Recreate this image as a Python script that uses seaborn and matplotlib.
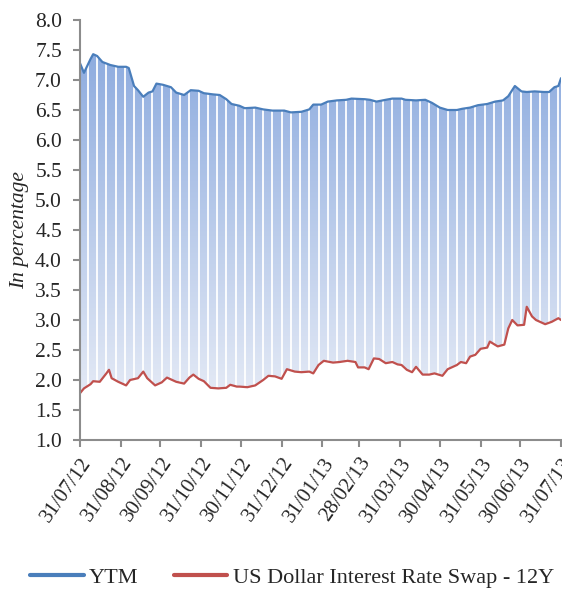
import numpy as np
import pandas as pd
import matplotlib
matplotlib.use("Agg")
import matplotlib.pyplot as plt
import matplotlib.dates as mdates
from matplotlib.patches import Polygon
import seaborn as sns

# ---------------- data ----------------
ytm_dates = ["2012-07-31", "2012-08-03", "2012-08-08", "2012-08-10", "2012-08-13", "2012-08-17",
             "2012-08-23", "2012-08-29", "2012-09-04", "2012-09-06", "2012-09-10", "2012-09-13",
             "2012-09-17", "2012-09-21", "2012-09-24", "2012-09-27", "2012-10-02", "2012-10-08",
             "2012-10-12", "2012-10-18", "2012-10-23", "2012-10-29", "2012-11-02", "2012-11-09",
             "2012-11-14", "2012-11-19", "2012-11-23", "2012-11-29", "2012-12-03", "2012-12-11",
             "2012-12-17", "2012-12-24", "2013-01-02", "2013-01-07", "2013-01-15", "2013-01-21",
             "2013-01-24", "2013-01-30", "2013-02-04", "2013-02-11", "2013-02-18", "2013-02-22",
             "2013-03-04", "2013-03-08", "2013-03-13", "2013-03-20", "2013-03-25", "2013-04-01",
             "2013-04-04", "2013-04-12", "2013-04-19", "2013-04-24", "2013-04-30", "2013-05-06",
             "2013-05-13", "2013-05-17", "2013-05-23", "2013-05-29", "2013-06-05", "2013-06-11",
             "2013-06-17", "2013-06-21", "2013-06-26", "2013-07-01", "2013-07-05", "2013-07-11",
             "2013-07-18", "2013-07-22", "2013-07-26", "2013-07-29", "2013-07-31"]
ytm_values = [7.28, 7.12, 7.35, 7.43, 7.40, 7.30,
              7.25, 7.22, 7.22, 7.20, 6.90, 6.83,
              6.72, 6.79, 6.81, 6.94, 6.92, 6.88,
              6.79, 6.75, 6.83, 6.82, 6.78, 6.76,
              6.75, 6.68, 6.60, 6.57, 6.53, 6.54,
              6.51, 6.49, 6.49, 6.46, 6.47, 6.51,
              6.59, 6.59, 6.64, 6.66, 6.67, 6.69,
              6.68, 6.67, 6.64, 6.67, 6.69, 6.69,
              6.67, 6.66, 6.67, 6.62, 6.54, 6.50,
              6.50, 6.52, 6.54, 6.58, 6.60, 6.64,
              6.66, 6.73, 6.90, 6.81, 6.80, 6.81,
              6.80, 6.80, 6.88, 6.90, 7.03]

swap_dates = ["2012-07-31", "2012-08-03", "2012-08-08", "2012-08-10", "2012-08-15", "2012-08-20",
              "2012-08-22", "2012-08-24", "2012-08-29", "2012-09-04", "2012-09-07", "2012-09-13",
              "2012-09-17", "2012-09-20", "2012-09-26", "2012-10-01", "2012-10-05", "2012-10-12",
              "2012-10-18", "2012-10-22", "2012-10-25", "2012-10-29", "2012-11-02", "2012-11-07",
              "2012-11-13", "2012-11-19", "2012-11-22", "2012-11-27", "2012-11-29", "2012-12-05",
              "2012-12-11", "2012-12-17", "2012-12-21", "2012-12-26", "2012-12-31", "2013-01-04",
              "2013-01-10", "2013-01-15", "2013-01-21", "2013-01-24", "2013-01-28", "2013-02-01",
              "2013-02-08", "2013-02-13", "2013-02-19", "2013-02-25", "2013-02-27", "2013-03-04",
              "2013-03-07", "2013-03-11", "2013-03-15", "2013-03-20", "2013-03-25", "2013-03-29",
              "2013-04-01", "2013-04-05", "2013-04-09", "2013-04-12", "2013-04-17", "2013-04-22",
              "2013-04-26", "2013-05-02", "2013-05-06", "2013-05-13", "2013-05-16", "2013-05-20",
              "2013-05-23", "2013-05-27", "2013-05-31", "2013-06-05", "2013-06-07", "2013-06-13",
              "2013-06-18", "2013-06-21", "2013-06-24", "2013-06-28", "2013-07-03", "2013-07-05",
              "2013-07-09", "2013-07-12", "2013-07-19", "2013-07-24", "2013-07-29", "2013-07-31"]
swap_values = [1.78, 1.86, 1.93, 1.98, 1.97, 2.11,
               2.17, 2.03, 1.97, 1.91, 2.00, 2.03,
               2.14, 2.03, 1.91, 1.96, 2.04, 1.97,
               1.94, 2.04, 2.09, 2.02, 1.98, 1.87,
               1.86, 1.87, 1.92, 1.89, 1.89, 1.88,
               1.91, 2.00, 2.07, 2.06, 2.02, 2.18,
               2.14, 2.13, 2.14, 2.11, 2.25, 2.32,
               2.29, 2.30, 2.32, 2.30, 2.21, 2.21,
               2.18, 2.36, 2.35, 2.28, 2.30, 2.26,
               2.25, 2.17, 2.13, 2.22, 2.09, 2.09,
               2.11, 2.07, 2.18, 2.25, 2.30, 2.28,
               2.39, 2.42, 2.52, 2.54, 2.64, 2.56,
               2.59, 2.86, 3.00, 2.91, 2.92, 3.22,
               3.06, 3.00, 2.93, 2.97, 3.03, 3.00]

tick_dates = ["2012-07-31", "2012-08-31", "2012-09-30", "2012-10-31", "2012-11-30", "2012-12-31",
              "2013-01-31", "2013-02-28", "2013-03-31", "2013-04-30", "2013-05-31", "2013-06-30",
              "2013-07-31"]
tick_labels = ["31/07/12", "31/08/12", "30/09/12", "31/10/12", "30/11/12", "31/12/12",
               "31/01/13", "28/02/13", "31/03/13", "30/04/13", "31/05/13", "30/06/13",
               "31/07/13"]
y_ticks = [1.0, 1.5, 2.0, 2.5, 3.0, 3.5, 4.0, 4.5, 5.0, 5.5, 6.0, 6.5, 7.0, 7.5, 8.0]

ytm_label = "YTM"
swap_label = "US Dollar Interest Rate Swap - 12Y"

# ---------------- figure ----------------
sns.set_theme(style="white")
plt.rcParams["font.family"] = ["Liberation Serif", "DejaVu Serif"]

fig = plt.figure(figsize=(5.62, 5.92), dpi=100)
ax = fig.add_axes([80 / 562, 1 - 440 / 592, 481 / 562, 420 / 592])

ytm = pd.DataFrame({"date": pd.to_datetime(ytm_dates), "value": ytm_values, "series": ytm_label})
swp = pd.DataFrame({"date": pd.to_datetime(swap_dates), "value": swap_values, "series": swap_label})

# common grid to build the band polygon
grid = pd.date_range(tick_dates[0], tick_dates[-1], freq="D")
gnum = mdates.date2num(grid)
top = np.interp(gnum, mdates.date2num(ytm["date"]), ytm["value"])
bot = np.interp(gnum, mdates.date2num(swp["date"]), swp["value"])

x0, x1 = mdates.date2num(pd.Timestamp(tick_dates[0])), mdates.date2num(pd.Timestamp(tick_dates[-1]))
ax.set_xlim(x0, x1)
ax.set_ylim(1.0, 8.0)

# gradient fill between the two series
poly_xy = np.column_stack([np.concatenate([gnum, gnum[::-1]]), np.concatenate([top, bot[::-1]])])
poly = Polygon(poly_xy, closed=True, facecolor="none", edgecolor="none")
ax.add_patch(poly)
cmap = matplotlib.colors.LinearSegmentedColormap.from_list(
    "band", [(0.0, "#e3e9f5"), (1.0, "#8eacdf")])
grad = np.linspace(0, 1, 256).reshape(-1, 1)
im = ax.imshow(grad, extent=[x0, x1, 1.8, 7.45], origin="lower", aspect="auto",
               cmap=cmap, zorder=1, interpolation="bilinear")
im.set_clip_path(poly)

# weekly white separators
for d in pd.date_range("2012-08-06", "2013-07-29", freq="7D"):
    ax.axvline(mdates.date2num(d), color="white", lw=1.3, zorder=2)

sns.lineplot(data=ytm, x="date", y="value", color="#4a7ebb", lw=1.6, ax=ax, zorder=4,
             label=ytm_label)
sns.lineplot(data=swp, x="date", y="value", color="#c0504d", lw=1.6, ax=ax, zorder=4,
             label=swap_label)
ax.set_xlim(x0, x1)
ax.set_ylim(1.0, 8.0)

# axes styling
for s in ["top", "right"]:
    ax.spines[s].set_visible(False)
for s in ["left", "bottom"]:
    ax.spines[s].set_color("#8c8c8c")
    ax.spines[s].set_linewidth(1.5)
    ax.spines[s].set_zorder(5)

ax.set_yticks(y_ticks)
ax.set_yticklabels([f"{v:.1f}" for v in y_ticks], fontsize=15.5)
ax.set_xticks(mdates.date2num(pd.to_datetime(tick_dates)))
ax.set_xticklabels(tick_labels, fontsize=15, rotation=55, ha="right", rotation_mode="anchor")
ax.tick_params(axis="both", which="major", direction="out", length=5, width=1.5,
               color="#8c8c8c", left=True, bottom=True)
ax.tick_params(axis="y", pad=8)
ax.tick_params(axis="x", pad=5)
ax.set_xlabel("")
ax.set_ylabel("In percentage", fontsize=15.5, style="italic", labelpad=4)

leg = ax.legend(loc="lower center", bbox_to_anchor=(0.52, -0.008), bbox_transform=fig.transFigure,
                ncol=2, frameon=False, fontsize=16, handlelength=2.4, columnspacing=1.6,
                handletextpad=0.25, borderaxespad=0.0)
for h in leg.get_lines():
    h.set_linewidth(3)

fig.savefig("out.png", dpi=100)
